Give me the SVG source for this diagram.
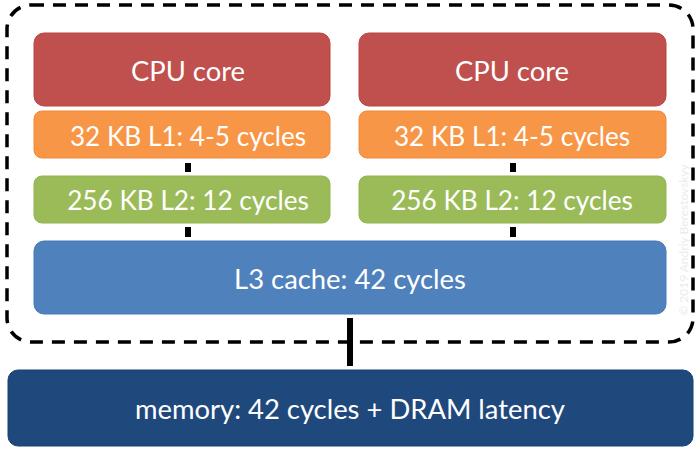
<svg xmlns="http://www.w3.org/2000/svg" width="700" height="450" viewBox="0 0 700 450">
<style>
.box{stroke-width:1}
.t{font-family:Lato,"Open Sans","Liberation Sans",sans-serif;fill:#fff;text-anchor:middle}
.big{font-size:27.4px}
.mid{font-size:26.2px}
.conn{stroke:#000;stroke-width:6;fill:none}
</style>
<rect width="700" height="450" fill="#fff"/>
<rect x="7" y="5" width="686" height="337" rx="24" ry="24" fill="none" stroke="#000" stroke-width="3.5" stroke-dasharray="13 9"/>
<text x="688" y="240" transform="rotate(-90 688 240)" font-family="Lato,'Open Sans',sans-serif" font-size="12" fill="#ebebeb" text-anchor="middle">© 2019 Andriy Berestovskyy</text>
<g id="connectors">
<line class="conn" x1="188" y1="163" x2="188" y2="172"/>
<line class="conn" x1="188" y1="227" x2="188" y2="237"/>
<line class="conn" x1="513" y1="163" x2="513" y2="172"/>
<line class="conn" x1="513" y1="227" x2="513" y2="237"/>
<line class="conn" x1="350" y1="318" x2="350" y2="366"/>
</g>
<g id="cpu1">
<rect class="box" x="34" y="33" width="296" height="73" rx="10" fill="#C0504D" stroke="#B84643"/>
<text class="t big" x="188" y="81">CPU core</text>
</g>
<g id="l1a">
<rect class="box" x="34" y="111" width="296" height="47" rx="8" fill="#F79646" stroke="#F08A3A"/>
<text class="t mid" x="188" y="146">32 KB L1: 4-5 cycles</text>
</g>
<g id="l2a">
<rect class="box" x="34" y="176" width="296" height="47" rx="8" fill="#9BBB59" stroke="#93B351"/>
<text class="t mid" x="188" y="210">256 KB L2: 12 cycles</text>
</g>
<g id="cpu2">
<rect class="box" x="359" y="33" width="307" height="73" rx="10" fill="#C0504D" stroke="#B84643"/>
<text class="t big" x="512" y="81">CPU core</text>
</g>
<g id="l1b">
<rect class="box" x="359" y="111" width="307" height="47" rx="8" fill="#F79646" stroke="#F08A3A"/>
<text class="t mid" x="512" y="146">32 KB L1: 4-5 cycles</text>
</g>
<g id="l2b">
<rect class="box" x="359" y="176" width="307" height="47" rx="8" fill="#9BBB59" stroke="#93B351"/>
<text class="t mid" x="512" y="210">256 KB L2: 12 cycles</text>
</g>
<g id="l3">
<rect class="box" x="34" y="241" width="632" height="73" rx="10" fill="#4F81BD" stroke="#4679B5"/>
<text class="t big" x="350" y="289">L3 cache: 42 cycles</text>
</g>
<g id="memory">
<rect class="box" x="8" y="370" width="685" height="76" rx="10" fill="#1F497D" stroke="#1A4070"/>
<text class="t big" x="350" y="419">memory: 42 cycles + DRAM latency</text>
</g>
</svg>
